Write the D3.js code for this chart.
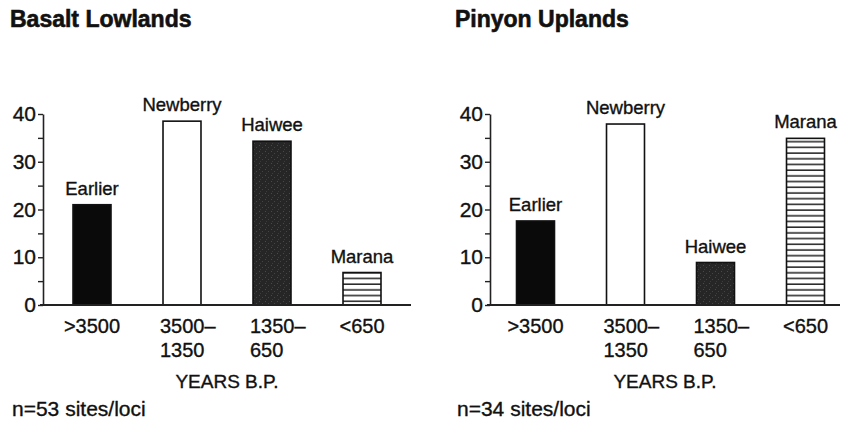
<!DOCTYPE html>
<html>
<head>
<meta charset="utf-8">
<script src="https://cdn.jsdelivr.net/npm/d3@7"></script>
<style>
  body { margin: 0; background: #fff; }
  svg { display: block; font-family: "Liberation Sans", Arial, sans-serif; }
  svg text { fill: #111; stroke: #111; stroke-width: 0.35px; }
</style>
</head>
<body>
<svg width="841" height="423"></svg>
<script>
// data
var phases = ["Earlier", "Newberry", "Haiwee", "Marana"];
var periodLines = [[">3500"], ["3500\u2013", "1350"], ["1350\u2013", "650"], ["<650"]];
var lowlandValues = [21, 38.5, 34.3, 6.8];
var uplandValues = [17.6, 37.9, 8.9, 34.9];
var panelTitles = ["Basalt Lowlands", "Pinyon Uplands"];
var sampleSizes = [53, 34];
var yTickValues = [0, 5, 10, 15, 20, 25, 30, 35, 40];

var svg = d3.select("svg");
var defs = svg.append("defs");

// stripes for Marana
var stripes = defs.append("pattern")
    .attr("id", "stripes")
    .attr("patternUnits", "userSpaceOnUse")
    .attr("width", 10).attr("height", 5.7);
stripes.append("rect").attr("width", 10).attr("height", 5.7).attr("fill", "#fff");
stripes.append("rect").attr("y", 4.2).attr("width", 10).attr("height", 1.4).attr("fill", "#111");

// dark stipple for Haiwee
var stipple = defs.append("pattern")
    .attr("id", "stipple")
    .attr("patternUnits", "userSpaceOnUse")
    .attr("width", 6).attr("height", 6);
stipple.append("rect").attr("width", 6).attr("height", 6).attr("fill", "#262626");
stipple.append("rect").attr("x", 1).attr("y", 1).attr("width", 1).attr("height", 1).attr("fill", "#4a4a4a");
stipple.append("rect").attr("x", 4).attr("y", 3).attr("width", 1).attr("height", 1).attr("fill", "#454545");
stipple.append("rect").attr("x", 2).attr("y", 5).attr("width", 1).attr("height", 1).attr("fill", "#3c3c3c");

var fills = {
  Earlier: "#0a0a0a",
  Newberry: "#fff",
  Haiwee: "url(#stipple)",
  Marana: "url(#stripes)"
};

var y = d3.scaleLinear().domain([0, 40]).range([305, 114]);

function drawPanel(opts) {
  var g = svg.append("g");

  var x = d3.scaleBand()
      .domain(phases)
      .range(opts.range)
      .paddingInner(0.578)
      .paddingOuter(0.289);

  g.append("text")
      .attr("x", opts.titleX).attr("y", 27)
      .attr("font-size", 23).attr("font-weight", "bold")
      .style("stroke-width", "0.6px")
      .text(opts.title);

  // y axis
  var yAxis = d3.axisLeft(y)
      .tickValues(yTickValues)
      .tickSize(5)
      .tickSizeOuter(0)
      .tickFormat(function(d) { return d % 10 === 0 ? d : ""; });

  var ya = g.append("g")
      .attr("transform", "translate(" + opts.axisX + ",0)")
      .call(yAxis);
  ya.select(".domain").attr("stroke", "#222").attr("stroke-width", 1.6);
  ya.selectAll(".tick line").attr("stroke", "#222").attr("stroke-width", 1.4);
  ya.selectAll(".tick text")
      .attr("font-size", 21)
      .attr("font-family", "Liberation Sans, Arial, sans-serif")
      .attr("x", -7);

  // bars
  g.selectAll("rect.bar")
      .data(opts.values)
      .enter()
      .append("rect")
      .attr("class", "bar")
      .attr("x", function(d, i) { return x(phases[i]); })
      .attr("y", function(d) { return y(d); })
      .attr("width", x.bandwidth())
      .attr("height", function(d) { return y(0) - y(d); })
      .attr("fill", function(d, i) { return fills[phases[i]]; })
      .attr("stroke", "#111")
      .attr("stroke-width", 1.6);

  // phase labels above bars
  g.selectAll("text.phase")
      .data(opts.values)
      .enter()
      .append("text")
      .attr("class", "phase")
      .attr("x", function(d, i) { return x(phases[i]) + x.bandwidth() / 2; })
      .attr("y", function(d) { return y(d) - 10; })
      .attr("text-anchor", "middle")
      .attr("font-size", 18.5)
      .text(function(d, i) { return phases[i]; });

  // x baseline
  g.append("line")
      .attr("x1", opts.axisX - 3).attr("x2", opts.lineEnd)
      .attr("y1", y(0)).attr("y2", y(0))
      .attr("stroke", "#222").attr("stroke-width", 2);

  // period labels
  var lab = g.selectAll("text.period")
      .data(periodLines)
      .enter()
      .append("text")
      .attr("class", "period")
      .attr("font-size", 20)
      .attr("text-anchor", function(d) { return d.length > 1 ? "start" : "middle"; })
      .attr("transform", function(d, i) {
        var cx = x(phases[i]) + x.bandwidth() / 2;
        return "translate(" + (d.length > 1 ? cx - 22 : cx) + ",333)";
      });
  lab.selectAll("tspan")
      .data(function(d) { return d; })
      .enter()
      .append("tspan")
      .attr("x", 0)
      .attr("y", function(d, i) { return i * 24; })
      .text(function(d) { return d; });

  g.append("text")
      .attr("x", (opts.axisX + opts.lineEnd) / 2).attr("y", 388)
      .attr("text-anchor", "middle")
      .attr("font-size", 19)
      .text("YEARS B.P.");

  g.append("text")
      .attr("x", opts.titleX + 2).attr("y", 416)
      .attr("font-size", 21)
      .text("n=" + opts.n + " sites/loci");
}

drawPanel({ title: panelTitles[0], titleX: 10, axisX: 43, range: [47, 407], lineEnd: 411, values: lowlandValues, n: sampleSizes[0] });
drawPanel({ title: panelTitles[1], titleX: 455, axisX: 490, range: [490.5, 850.5], lineEnd: 840, values: uplandValues, n: sampleSizes[1] });
</script>
</body>
</html>
